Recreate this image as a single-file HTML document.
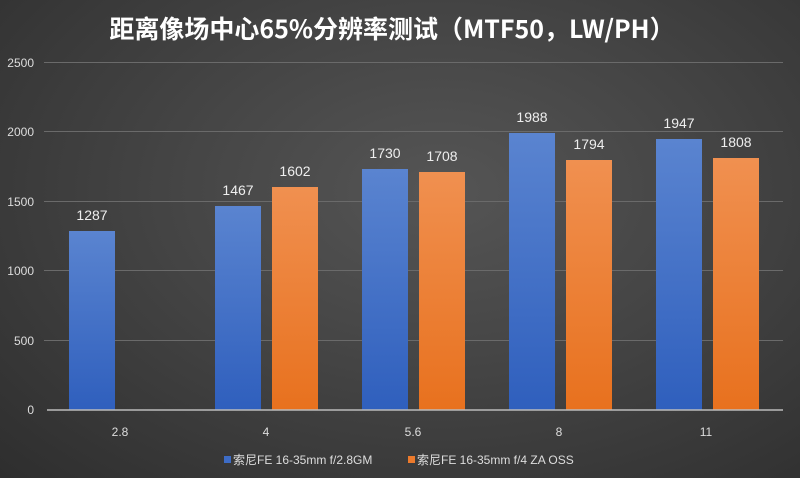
<!DOCTYPE html>
<html><head><meta charset="utf-8"><style>
html,body{margin:0;padding:0;width:800px;height:478px;overflow:hidden;}
body{background:radial-gradient(ellipse at 55% 40%,#555 0%,#444 45%,#2e2e2e 100%);}
svg text{font-family:"Liberation Sans","Noto Sans CJK SC",sans-serif;}
</style></head><body>
<svg width="800" height="478" xmlns="http://www.w3.org/2000/svg">
<defs>
<linearGradient id="b" x1="0" y1="0" x2="0" y2="1"><stop offset="0" stop-color="#5a84d0"/><stop offset="1" stop-color="#2f5fbd"/></linearGradient>
<linearGradient id="o" x1="0" y1="0" x2="0" y2="1"><stop offset="0" stop-color="#f09050"/><stop offset="1" stop-color="#e8711e"/></linearGradient>
</defs>
<text x="392" y="38" fill="#fff" font-size="25" font-weight="bold" text-anchor="middle" style="font-family:'Noto Sans CJK SC',sans-serif">距离像场中心65%分辨率测试（MTF50，LW/PH）</text>
<g stroke="#6a6a6a" stroke-width="1">
<line x1="44" y1="62.5" x2="783" y2="62.5"/><line x1="44" y1="131.5" x2="783" y2="131.5"/>
<line x1="44" y1="201.5" x2="783" y2="201.5"/><line x1="44" y1="270.5" x2="783" y2="270.5"/>
<line x1="44" y1="340.5" x2="783" y2="340.5"/>
</g>
<g fill="#ddd" font-size="12" text-anchor="end">
<text x="34" y="67">2500</text><text x="34" y="136">2000</text><text x="34" y="206">1500</text>
<text x="34" y="275">1000</text><text x="34" y="345">500</text><text x="34" y="414">0</text>
</g>
<g>
<rect x="69" y="231" width="46" height="179" fill="url(#b)"/>
<rect x="215" y="206" width="46" height="204" fill="url(#b)"/>
<rect x="272" y="187" width="46" height="223" fill="url(#o)"/>
<rect x="362" y="169" width="46" height="241" fill="url(#b)"/>
<rect x="419" y="172" width="46" height="238" fill="url(#o)"/>
<rect x="509" y="133" width="46" height="277" fill="url(#b)"/>
<rect x="566" y="160" width="46" height="250" fill="url(#o)"/>
<rect x="656" y="139" width="46" height="271" fill="url(#b)"/>
<rect x="713" y="158" width="46" height="252" fill="url(#o)"/>
</g>
<line x1="47" y1="410" x2="783" y2="410" stroke="#bbb" stroke-width="1.5"/>
<g fill="#eee" font-size="14" text-anchor="middle">
<text x="92" y="220">1287</text>
<text x="238" y="195">1467</text><text x="295" y="176">1602</text>
<text x="385" y="158">1730</text><text x="442" y="161">1708</text>
<text x="532" y="122">1988</text><text x="589" y="149">1794</text>
<text x="679" y="128">1947</text><text x="736" y="147">1808</text>
</g>
<g fill="#ddd" font-size="12" text-anchor="middle">
<text x="120" y="436">2.8</text><text x="266" y="436">4</text><text x="413" y="436">5.6</text>
<text x="559" y="436">8</text><text x="706" y="436">11</text>
</g>
<rect x="224" y="456" width="7" height="7" fill="#3d6cc6"/>
<text x="233" y="464" fill="#ddd" font-size="12">索尼FE 16-35mm f/2.8GM</text>
<rect x="408" y="456" width="7" height="7" fill="#ec7a2c"/>
<text x="417" y="464" fill="#ddd" font-size="12">索尼FE 16-35mm f/4 ZA OSS</text>
</svg>
</body></html>
